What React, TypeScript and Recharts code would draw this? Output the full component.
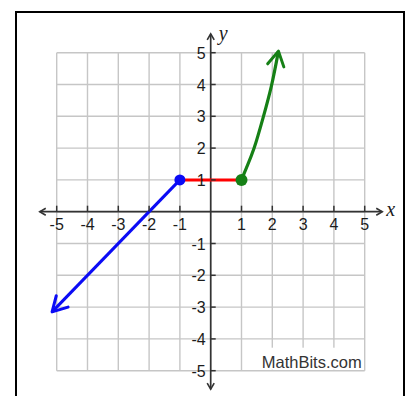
import {
  LineChart,
  Line,
  XAxis,
  YAxis,
  ReferenceLine,
  ReferenceDot,
} from "recharts";

// grid and tick values
const gridValues = [-5, -4, -3, -2, -1, 0, 1, 2, 3, 4, 5];
const xTickValues = [-5, -4, -3, -2, -1, 1, 2, 3, 4, 5];
const yTickValues = [5, 4, 3, 2, 1, -1, -2, -3, -4, -5];

// axis extents (where the arrow tips sit)
const xAxisEnds = [-5.55, 5.57];
const yAxisEnds = [-5.58, 5.59];

// piece 1: ray going down-left from (-1, 1)
const leftX = [-1, -5.15];
const leftY = [1, -3.15];

// piece 2: flat segment
const middleX = [-1, 1];
const middleY = [1, 1];

// piece 3: curve rising from (1, 1)
const rightX = [1, 1.16, 1.41, 1.7, 1.97, 2.2];
const rightY = [1, 1.38, 2, 2.95, 3.95, 5.05];

// closed endpoints
const blueDot = { x: -1, y: 1 };
const greenDot = { x: 1, y: 1 };

const toPoints = (xs: number[], ys: number[]) =>
  xs.map((x, i) => ({ x, y: ys[i] }));

const FONT = '"Liberation Sans", Arial, sans-serif';
const SERIF = '"Liberation Serif", "Times New Roman", serif';
const GRID = "#c6c6c6";
const AXIS = "#333";
const LABEL = "#1c1c1c";

function Markers() {
  const big = (id: string, color: string) => (
    <marker
      id={id}
      viewBox="-18 -11 20 22"
      refX={0}
      refY={0}
      markerWidth={20}
      markerHeight={22}
      markerUnits="userSpaceOnUse"
      orient="auto"
    >
      <path
        d="M -14.5 -8.2 L 0 0 L -14.5 8.2"
        fill="none"
        stroke={color}
        strokeWidth={3}
        strokeLinecap="round"
        strokeLinejoin="round"
      />
    </marker>
  );
  return (
    <svg width={0} height={0} style={{ position: "absolute" }}>
      <defs>
        {big("arrowBlue", "#0b0bf5")}
        {big("arrowGreen", "#168016")}
        <marker
          id="axisArrow"
          viewBox="-8 -5 10 10"
          refX={0}
          refY={0}
          markerWidth={10}
          markerHeight={10}
          markerUnits="userSpaceOnUse"
          orient="auto-start-reverse"
        >
          <path
            d="M -6 -3.5 L 0 0 L -6 3.5"
            fill="none"
            stroke={AXIS}
            strokeWidth={1.6}
          />
        </marker>
      </defs>
    </svg>
  );
}

const axisShape = (p: any) => (
  <line
    x1={p.x1}
    y1={p.y1}
    x2={p.x2}
    y2={p.y2}
    stroke={AXIS}
    strokeWidth={1.7}
    markerStart="url(#axisArrow)"
    markerEnd="url(#axisArrow)"
  />
);

export default function App() {
  return (
    <div
      style={{
        position: "fixed",
        left: 0,
        top: 0,
        width: 409,
        height: 396,
        overflow: "hidden",
        background: "#fff",
      }}
    >
      <Markers />
      <div
        style={{
          position: "absolute",
          left: 15,
          top: 11,
          width: 390,
          height: 400,
          border: "2px solid #000",
          boxSizing: "border-box",
        }}
      />
      <div style={{ position: "absolute", left: 0, top: 0 }}>
        <LineChart
          width={409}
          height={404}
          margin={{ top: 20.9, right: 13.5, bottom: 1.5, left: 25.9 }}
        >
          <XAxis type="number" dataKey="x" domain={[-6, 6]} hide allowDataOverflow />
          <YAxis type="number" dataKey="y" domain={[-6, 6]} hide allowDataOverflow />

          {gridValues.map((k) => (
            <ReferenceLine
              key={`v${k}`}
              segment={[
                { x: k, y: -5 },
                { x: k, y: 5 },
              ]}
              stroke={GRID}
              strokeWidth={1.4}
            />
          ))}
          {gridValues.map((k) => (
            <ReferenceLine
              key={`h${k}`}
              segment={[
                { x: -5, y: k },
                { x: 5, y: k },
              ]}
              stroke={GRID}
              strokeWidth={1.4}
            />
          ))}

          <ReferenceDot
            x={5}
            y={-5}
            shape={(p: any) => (
              <g>
                <rect x={p.cx - 107} y={p.cy - 23} width={106} height={22} fill="#fff" />
                <text
                  x={p.cx - 3}
                  y={p.cy - 3}
                  textAnchor="end"
                  fontFamily={FONT}
                  fontSize={16.5}
                  fill="#333"
                >
                  MathBits.com
                </text>
              </g>
            )}
          />

          <ReferenceLine
            segment={[
              { x: xAxisEnds[0], y: 0 },
              { x: xAxisEnds[1], y: 0 },
            ]}
            shape={axisShape}
          />
          <ReferenceLine
            segment={[
              { x: 0, y: yAxisEnds[0] },
              { x: 0, y: yAxisEnds[1] },
            ]}
            shape={axisShape}
          />

          {xTickValues.map((v) => (
            <ReferenceDot
              key={`xt${v}`}
              x={v}
              y={0}
              shape={(p: any) => (
                <g>
                  <line x1={p.cx} y1={p.cy - 6} x2={p.cx} y2={p.cy} stroke={AXIS} strokeWidth={1.5} />
                  <text
                    x={p.cx}
                    y={p.cy + 18}
                    textAnchor="middle"
                    fontFamily={FONT}
                    fontSize={16}
                    fill={LABEL}
                  >
                    {v}
                  </text>
                </g>
              )}
            />
          ))}
          {yTickValues.map((v) => (
            <ReferenceDot
              key={`yt${v}`}
              x={0}
              y={v}
              shape={(p: any) => (
                <g>
                  <line x1={p.cx} y1={p.cy} x2={p.cx + 5} y2={p.cy} stroke={AXIS} strokeWidth={1.5} />
                  <text
                    x={p.cx - 5}
                    y={p.cy + 6}
                    textAnchor="end"
                    fontFamily={FONT}
                    fontSize={16}
                    fill={LABEL}
                  >
                    {v}
                  </text>
                </g>
              )}
            />
          ))}

          <ReferenceDot
            x={xAxisEnds[1]}
            y={0}
            shape={(p: any) => (
              <text
                x={p.cx + 4}
                y={p.cy + 4}
                fontFamily={SERIF}
                fontStyle="italic"
                fontSize={20}
                fill={LABEL}
              >
                x
              </text>
            )}
          />
          <ReferenceDot
            x={0}
            y={yAxisEnds[1]}
            shape={(p: any) => (
              <text
                x={p.cx + 8}
                y={p.cy + 6}
                fontFamily={SERIF}
                fontStyle="italic"
                fontSize={20}
                fill={LABEL}
              >
                y
              </text>
            )}
          />

          <Line
            data={toPoints(leftX, leftY)}
            dataKey="y"
            type="linear"
            stroke="#0b0bf5"
            strokeWidth={3}
            dot={false}
            markerEnd="url(#arrowBlue)"
            isAnimationActive={false}
          />
          <Line
            data={toPoints(middleX, middleY)}
            dataKey="y"
            type="linear"
            stroke="#ff0000"
            strokeWidth={3}
            dot={false}
            isAnimationActive={false}
          />
          <Line
            data={toPoints(rightX, rightY)}
            dataKey="y"
            type="natural"
            stroke="#168016"
            strokeWidth={3.2}
            dot={false}
            markerEnd="url(#arrowGreen)"
            isAnimationActive={false}
          />

          <ReferenceDot x={blueDot.x} y={blueDot.y} r={5.5} fill="#0b0bf5" stroke="none" />
          <ReferenceDot x={greenDot.x} y={greenDot.y} r={6} fill="#168016" stroke="none" />
        </LineChart>
      </div>
    </div>
  );
}
